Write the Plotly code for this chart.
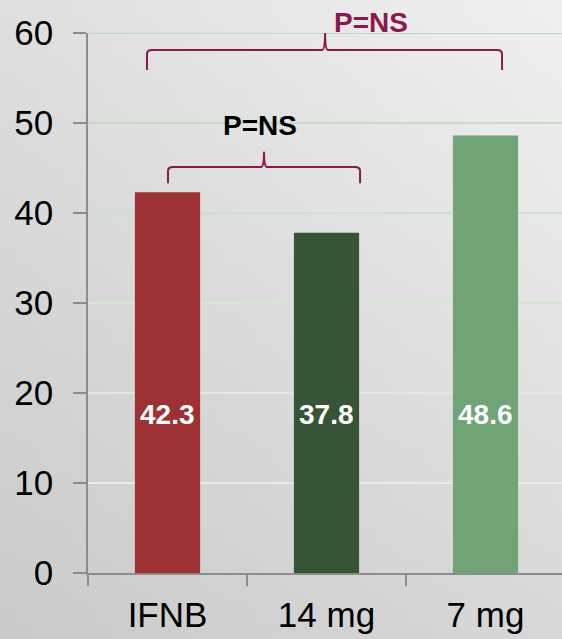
import base64
import struct
import zlib

import plotly.graph_objects as go

# ---- data -----------------------------------------------------------------
categories = ["IFNB", "14 mg", "7 mg"]
values = [42.3, 37.8, 48.6]
value_labels = ["42.3", "37.8", "48.6"]
y_ticks = [0, 10, 20, 30, 40, 50, 60]
comparison_labels = ["P=NS", "P=NS"]

# ---- layout constants ------------------------------------------------------
W, H = 562, 639
PLOT_LEFT, PLOT_TOP, PLOT_BOTTOM = 88, 33, 573   # px
CAT_PX = 159                                    # px per category
BAR_COLORS = ["#9e3133", "#375437", "#70a375"]
AXIS_GRAY = "#8c8c8c"
MAROON = "#8c194b"
FONT = "Liberation Sans, Arial, sans-serif"

x_span = (W - PLOT_LEFT) / CAT_PX
x_range = [-0.5, -0.5 + x_span]
DX = 1 / CAT_PX           # data units per px (x)
DY = 60 / (PLOT_BOTTOM - PLOT_TOP)  # data units per px (y)


def gradient_png(w, h, tl, tr, bl, br):
    """Small grey bilinear gradient PNG as a data URI."""
    raw = bytearray()
    for j in range(h):
        fy = j / (h - 1)
        raw.append(0)
        for i in range(w):
            fx = i / (w - 1)
            top = tl + (tr - tl) * fx
            bot = bl + (br - bl) * fx
            v = int(round(top + (bot - top) * fy))
            raw += bytes([v, v, v])

    def chunk(tag, data):
        return (struct.pack(">I", len(data)) + tag + data
                + struct.pack(">I", zlib.crc32(tag + data) & 0xFFFFFFFF))

    png = b"\x89PNG\r\n\x1a\n"
    png += chunk(b"IHDR", struct.pack(">IIBBBBB", w, h, 8, 2, 0, 0, 0))
    png += chunk(b"IDAT", zlib.compress(bytes(raw)))
    png += chunk(b"IEND", b"")
    return "data:image/png;base64," + base64.b64encode(png).decode()


def brace_path(xl, xm, xr, y_end, y_line, y_peak):
    rx, ry, px = 5 * DX, 4 * DY, 3 * DX
    return (
        f"M {xl},{y_end} L {xl},{y_line - ry} Q {xl},{y_line} {xl + rx},{y_line} "
        f"L {xm - px},{y_line} Q {xm},{y_line} {xm},{y_peak} "
        f"Q {xm},{y_line} {xm + px},{y_line} "
        f"L {xr - rx},{y_line} Q {xr},{y_line} {xr},{y_line - ry} L {xr},{y_end}"
    )


fig = go.Figure()
fig.add_trace(go.Bar(
    x=list(range(len(categories))),
    y=values,
    width=0.41,
    marker=dict(color=BAR_COLORS, line=dict(width=0)),
    hoverinfo="skip",
))

shapes = []
# horizontal gridlines, greener near the top
grid_top, grid_bot = (188, 218, 188), (226, 240, 226)
for v in y_ticks[1:]:
    f = (v - 10) / 50
    c = tuple(int(round(grid_bot[k] + (grid_top[k] - grid_bot[k]) * f)) for k in range(3))
    shapes.append(dict(type="line", xref="paper", yref="y",
                       x0=PLOT_LEFT / W, x1=1, y0=v, y1=v, layer="below",
                       line=dict(color=f"rgb{c}", width=2)))

# comparison braces
shapes.append(dict(type="path", xref="x", yref="y", layer="above",
                   path=brace_path(-0.129, 0.991, 2.104, 55.9, 58.1, 60.2),
                   line=dict(color=MAROON, width=2)))
shapes.append(dict(type="path", xref="x", yref="y", layer="above",
                   path=brace_path(0.003, 0.607, 1.211, 43.3, 45.1, 46.8),
                   line=dict(color=MAROON, width=2)))

annotations = []
for i, txt in enumerate(value_labels):
    annotations.append(dict(x=i, y=17.6, xref="x", yref="y", text=f"<b>{txt}</b>",
                            showarrow=False, xanchor="center", yanchor="middle",
                            font=dict(family=FONT, size=28, color="white")))
annotations.append(dict(x=1.277, y=(H - 22.5) / H, xref="x", yref="paper",
                        text=f"<b>{comparison_labels[0]}</b>", showarrow=False,
                        xanchor="center", yanchor="middle",
                        font=dict(family=FONT, size=28, color=MAROON)))
annotations.append(dict(x=0.582, y=49.7, xref="x", yref="y",
                        text=f"<b>{comparison_labels[1]}</b>", showarrow=False,
                        xanchor="center", yanchor="middle",
                        font=dict(family=FONT, size=28, color="black")))

fig.update_layout(
    width=W, height=H,
    margin=dict(l=0, r=0, t=0, b=0, pad=0, autoexpand=False),
    paper_bgcolor="#dcdcdc",
    plot_bgcolor="rgba(0,0,0,0)",
    showlegend=False,
    shapes=shapes,
    annotations=annotations,
    images=[dict(source=gradient_png(64, 64, 223, 240, 202, 216),
                 xref="paper", yref="paper", x=0, y=1, sizex=1, sizey=1,
                 xanchor="left", yanchor="top", sizing="stretch", layer="below")],
    xaxis=dict(
        domain=[PLOT_LEFT / W, 1], range=x_range, fixedrange=True, automargin=False,
        tickmode="array", tickvals=list(range(len(categories))), ticktext=categories,
        ticks="", showgrid=False, zeroline=False,
        showline=True, linecolor=AXIS_GRAY, linewidth=1.5,
        tickfont=dict(family=FONT, size=35, color="black"),
        ticklabelstandoff=10,
        minor=dict(tickmode="array", tickvals=[-0.5, 0.5, 1.5, 2.5],
                   ticks="outside", ticklen=11, tickwidth=1.5,
                   tickcolor=AXIS_GRAY, showgrid=False),
    ),
    yaxis=dict(
        domain=[(H - PLOT_BOTTOM) / H, (H - PLOT_TOP) / H], range=[0, 60],
        fixedrange=True, automargin=False, tickmode="array", tickvals=y_ticks,
        ticks="outside", ticklen=13, tickwidth=1.5, tickcolor=AXIS_GRAY,
        showgrid=False, zeroline=False,
        showline=True, linecolor=AXIS_GRAY, linewidth=1.5,
        tickfont=dict(family=FONT, size=35, color="black"),
        ticklabelstandoff=13,
    ),
)

fig.write_html("out.html")
